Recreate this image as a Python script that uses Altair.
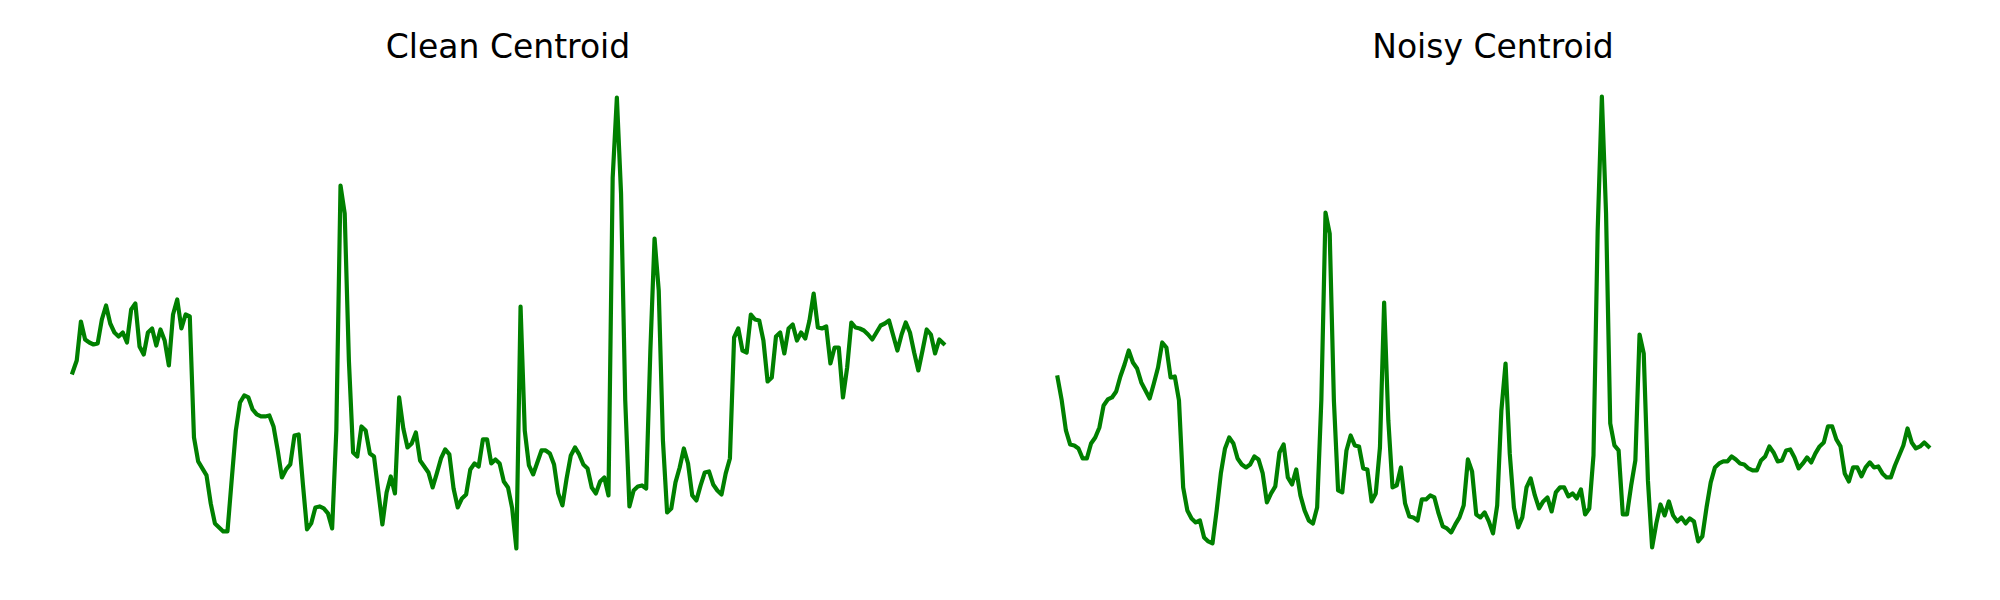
import altair as alt
import pandas as pd

# spectral centroid per frame (arbitrary units)
clean = [
    228, 240, 279, 261, 258, 256, 257, 281, 295, 277,
    268, 264, 268, 258, 291, 297, 254, 246, 268, 272,
    255, 271, 260, 235, 286, 301, 272, 286, 284, 163,
    139, 132, 125, 97, 77, 73, 69, 69, 120, 170,
    198, 205, 203, 191, 186, 184, 184, 185, 174, 150,
    123, 131, 136, 165, 166, 117, 71, 77, 93, 94,
    92, 87, 72, 170, 415, 387, 240, 148, 144, 174,
    170, 147, 144, 110, 76, 108, 124, 107, 203, 172,
    153, 157, 168, 140, 134, 128, 113, 127, 142, 151,
    146, 112, 93, 102, 106, 131, 137, 134, 161, 161,
    137, 141, 137, 119, 113, 92, 52, 294, 170, 135,
    126, 138, 150, 150, 147, 136, 107, 95, 122, 145,
    153, 146, 136, 132, 113, 107, 119, 123, 105, 423,
    503, 407, 200, 94, 110, 114, 115, 112, 250, 362,
    310, 160, 88, 92, 118, 133, 152, 137, 105, 100,
    115, 128, 129, 116, 110, 106, 127, 142, 263, 272,
    250, 248, 286, 281, 280, 260, 219, 223, 264, 268,
    247, 272, 276, 260, 268, 262, 280, 307, 273, 272,
    274, 237, 253, 253, 203, 233, 278, 273, 272, 270,
    266, 261, 268, 275, 277, 280, 265, 250, 266, 278,
    268, 248, 230, 250, 271, 266, 247, 261, 257,
]

noisy = [
    223, 200, 170, 156, 155, 152, 142, 142, 157, 163,
    173, 195, 201, 203, 209, 224, 236, 250, 238, 232,
    218, 210, 202, 217, 233, 258, 253, 223, 224, 200,
    113, 90, 82, 78, 80, 63, 59, 57, 90, 127,
    152, 163, 157, 142, 136, 133, 136, 144, 141, 127,
    98, 107, 114, 148, 156, 123, 116, 131, 105, 90,
    80, 77, 93, 200, 388, 367, 200, 110, 108, 150,
    165, 155, 154, 132, 131, 99, 107, 153, 298, 180,
    113, 115, 133, 97, 84, 83, 80, 101, 101, 105,
    103, 87, 74, 72, 68, 76, 83, 95, 141, 129,
    86, 83, 88, 79, 67, 95, 190, 237, 147, 93,
    73, 83, 113, 122, 105, 92, 99, 103, 89, 108,
    113, 113, 104, 107, 102, 111, 86, 92, 145, 370,
    504, 387, 177, 155, 150, 86, 86, 115, 140, 266,
    247, 120, 53, 77, 96, 85, 99, 85, 79, 83,
    77, 82, 79, 59, 64, 93, 118, 133, 137, 139,
    139, 144, 141, 137, 136, 132, 130, 130, 140, 144,
    154, 148, 139, 140, 150, 151, 143, 132, 137, 143,
    138, 147, 154, 158, 174, 174, 161, 154, 127, 119,
    133, 133, 124, 133, 138, 133, 134, 127, 123, 123,
    135, 145, 155, 172, 158, 152, 154, 158, 154,
]

titles = ["Clean Centroid", "Noisy Centroid"]

# matplotlib-style 5% margins, shared axes
n = len(clean)
xpad = 0.05 * (n - 1)
lo = min(clean + noisy)
hi = max(clean + noisy)
ypad = 0.05 * (hi - lo)


def panel(values, title):
    df = pd.DataFrame({"frame": range(len(values)), "centroid": values})
    return alt.Chart(df).mark_line(
        color="#008000", strokeWidth=4.2, strokeJoin="round", strokeCap="square"
    ).encode(
        x=alt.X("frame:Q", axis=None,
                scale=alt.Scale(domain=[-xpad, n - 1 + xpad], nice=False, zero=False)),
        y=alt.Y("centroid:Q", axis=None,
                scale=alt.Scale(domain=[lo - ypad, hi + ypad], nice=False, zero=False)),
    ).properties(
        width=958,
        height=497,
        title=alt.TitleParams(title, fontSize=33, font="DejaVu Sans", fontWeight="normal",
                              color="black", anchor="middle", baseline="alphabetic", offset=-17),
    )


chart = alt.hconcat(
    panel(clean, titles[0]), panel(noisy, titles[1]), spacing=27
).properties(
    padding={"left": 21, "top": 24, "right": 0, "bottom": 0},
    background="white",
).configure_view(
    stroke="transparent",
    strokeOpacity=0,
)

chart.save("out.html", embed_options={"renderer": "svg", "actions": False})
